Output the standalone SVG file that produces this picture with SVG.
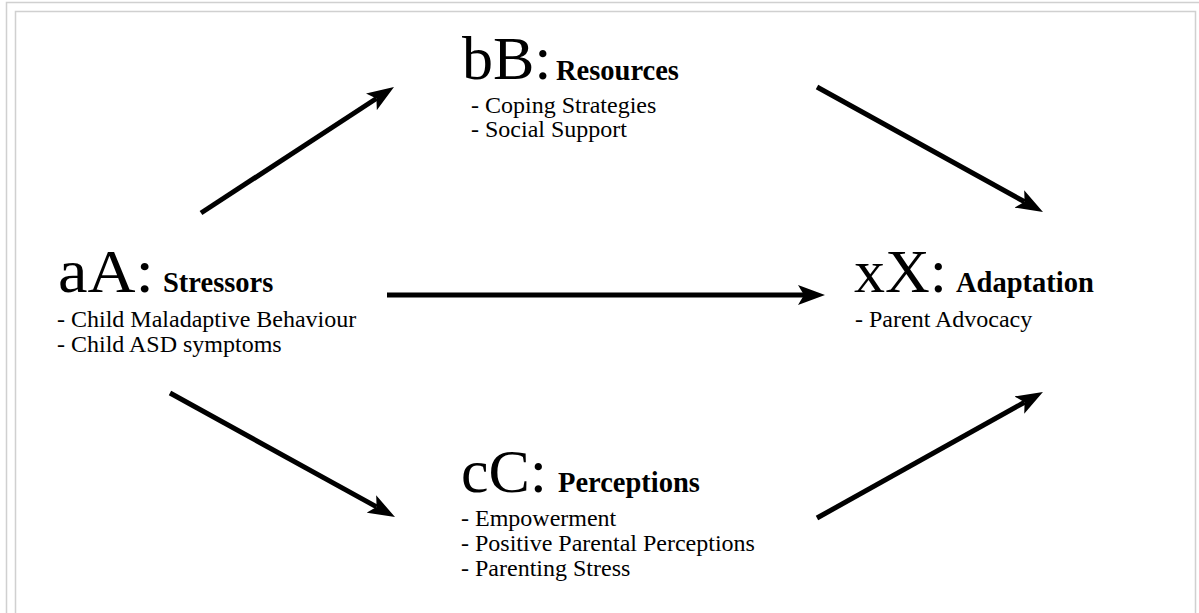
<svg xmlns="http://www.w3.org/2000/svg" width="1199" height="613" viewBox="0 0 1199 613">
<style>
.frame{fill:none;stroke:#d0d0d0;stroke-width:1.5}
.big{font-family:"Liberation Serif","Times New Roman",serif;font-size:62px;fill:#000}
.lbl{font-family:"Liberation Serif","Times New Roman",serif;font-size:28.5px;font-weight:bold;fill:#000}
.item{font-family:"Liberation Serif","Times New Roman",serif;font-size:24px;fill:#000}
.arrow{stroke:#000;stroke-width:5;fill:none;stroke-linecap:butt;marker-end:url(#head)}
</style>
<defs>
<marker id="head" viewBox="0 0 27 20" refX="6" refY="10" markerWidth="27" markerHeight="20" markerUnits="userSpaceOnUse" orient="auto">
<path d="M0,0 L27,10 L0,20 L6,10 Z" fill="#000"/>
</marker>
</defs>
<rect width="1199" height="613" fill="#fff"/>
<g id="frame">
<path class="frame" d="M6.5,613 V2.5 H1199"/>
<path class="frame" d="M15.5,613 V11.5 H1195.5 V613"/>
</g>
<g id="connectors">
<line class="arrow" x1="201" y1="213" x2="376.4" y2="98.5"/>
<line class="arrow" x1="387" y1="295" x2="804" y2="295"/>
<line class="arrow" x1="170" y1="393" x2="376.6" y2="506.9"/>
<line class="arrow" x1="817" y1="87" x2="1024.6" y2="201.8"/>
<line class="arrow" x1="817" y1="518" x2="1024.6" y2="402.2"/>
</g>
<g id="node-a">
<text class="big" x="58" y="292" textLength="96" lengthAdjust="spacingAndGlyphs">aA:</text>
<text class="lbl" x="163" y="292">Stressors</text>
<text class="item" x="57" y="327">- Child Maladaptive Behaviour</text>
<text class="item" x="57" y="352">- Child ASD symptoms</text>
</g>
<g id="node-b">
<text class="big" x="462" y="79">bB:</text>
<text class="lbl" x="556" y="80">Resources</text>
<text class="item" x="471" y="113">- Coping Strategies</text>
<text class="item" x="471" y="137">- Social Support</text>
</g>
<g id="node-c">
<text class="big" x="461" y="492">cC:</text>
<text class="lbl" x="558" y="492">Perceptions</text>
<text class="item" x="461" y="526">- Empowerment</text>
<text class="item" x="461" y="551">- Positive Parental Perceptions</text>
<text class="item" x="461" y="576">- Parenting Stress</text>
</g>
<g id="node-x">
<text class="big" x="854" y="292">xX:</text>
<text class="lbl" x="956" y="292">Adaptation</text>
<text class="item" x="855" y="327">- Parent Advocacy</text>
</g>
</svg>
